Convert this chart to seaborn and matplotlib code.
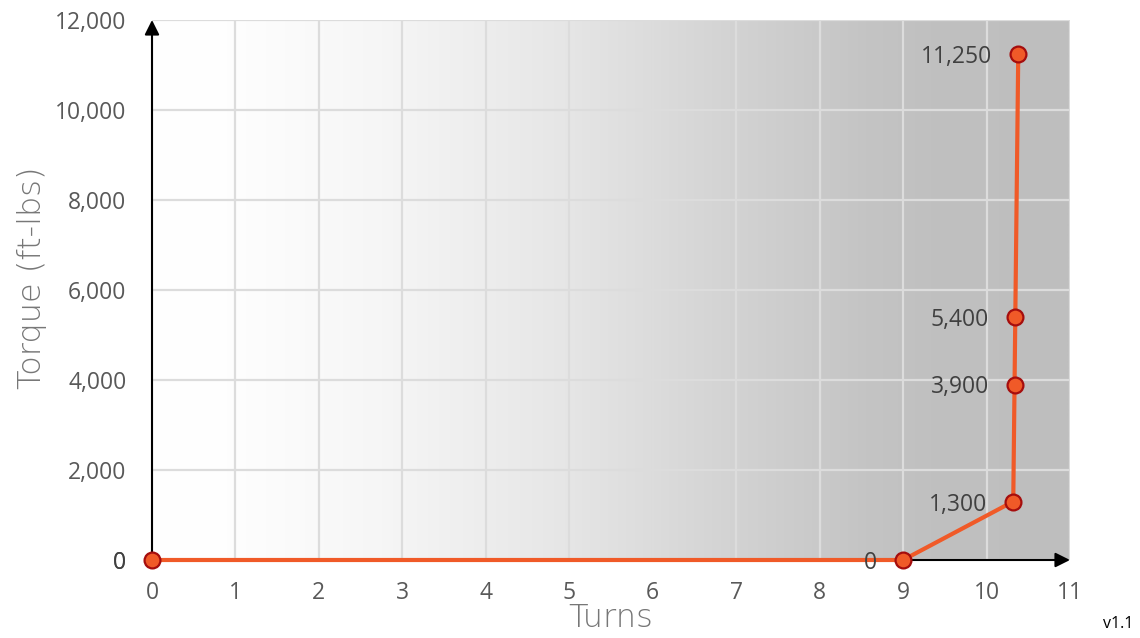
import numpy as np
import matplotlib
matplotlib.use("Agg")
import matplotlib.pyplot as plt
import seaborn as sns
import pandas as pd
from matplotlib.colors import LinearSegmentedColormap
from matplotlib.ticker import FuncFormatter

turns = [0, 9, 10.32, 10.34, 10.34, 10.38]
torque = [0, 0, 1300, 3900, 5400, 11250]
point_labels = ["0", "0", "1,300", "3,900", "5,400", "11,250"]
x_ticks = list(range(0, 12))
y_ticks = list(range(0, 12001, 2000))

df = pd.DataFrame({"Turns": turns, "Torque": torque})

sns.set_theme(style="white")
plt.rcParams['font.family'] = ['Open Sans', 'DejaVu Sans']

fig = plt.figure(figsize=(11.4, 6.38), dpi=100)
ax = fig.add_axes([152/1140, 1-560/638, (1070-152)/1140, (560-20)/638])

# gradient background
cmap = LinearSegmentedColormap.from_list(
    "bg", [(0.0, "#ffffff"), (0.08, "#fefefe"), (0.25, "#f6f6f6"),
           (0.45, "#e6e6e6"), (0.62, "#d4d4d4"), (0.78, "#c4c4c4"),
           (0.85, "#c0c0c0"), (1.0, "#bebebe")])
grad = np.linspace(0, 1, 512).reshape(1, -1)
ax.imshow(grad, cmap=cmap, aspect="auto", extent=[0, 11, 0, 12000],
          zorder=0, interpolation="bilinear")

ax.set_xlim(0, 11)
ax.set_ylim(0, 12000)
ax.set_xticks(x_ticks)
ax.set_yticks(y_ticks)
ax.yaxis.set_major_formatter(FuncFormatter(lambda v, p: f"{int(v):,}"))
ax.grid(True, color="#dcdcdc", lw=1.6, zorder=1)
ax.set_axisbelow(False)
for s in ax.spines.values():
    s.set_visible(False)
ax.tick_params(axis="both", length=0, labelsize=16.5, colors="#595959")
ax.tick_params(axis="y", pad=18.5)
ax.tick_params(axis="x", pad=15)

sns.lineplot(data=df, x="Turns", y="Torque", ax=ax, color="#f05a28", lw=3,
             sort=False, zorder=4, clip_on=False, legend=False)
ax.scatter(turns, torque, s=130, color="#f05a28", edgecolor="#a50d0d",
           linewidth=1.6, zorder=6, clip_on=False)

for x, y, lab in zip(turns, torque, point_labels):
    ax.annotate(lab, (x, y), xytext=(-18.5, 0), textcoords="offset points",
                ha="right", va="center_baseline", fontsize=16.5, color="#404040",
                zorder=7, annotation_clip=False)

# axis arrows
ax.annotate("", xy=(11, 0), xytext=(0, 0),
            arrowprops=dict(arrowstyle="-|>", color="black", lw=1.5,
                            mutation_scale=22, shrinkA=0, shrinkB=0),
            zorder=3, annotation_clip=False)
ax.annotate("", xy=(0, 12000), xytext=(0, 0),
            arrowprops=dict(arrowstyle="-|>", color="black", lw=1.5,
                            mutation_scale=22, shrinkA=0, shrinkB=0),
            zorder=3, annotation_clip=False)

ax.set_xlabel("Turns", fontsize=23, color="#777777", family=["DejaVu Sans"],
              fontweight="light", va="center")
ax.xaxis.set_label_coords(0.5, (560 - 618) / 540)
ax.set_ylabel("Torque (ft-lbs)", fontsize=23, color="#777777", family=["DejaVu Sans"],
              fontweight="light", va="center")
ax.yaxis.set_label_coords((32 - 152) / 918, (560 - 278) / 540)

fig.text(1118/1140, 1-624/638, "v1.1", ha="center", va="center", fontsize=11.5,
         color="black")

fig.savefig("out.png", dpi=100)
